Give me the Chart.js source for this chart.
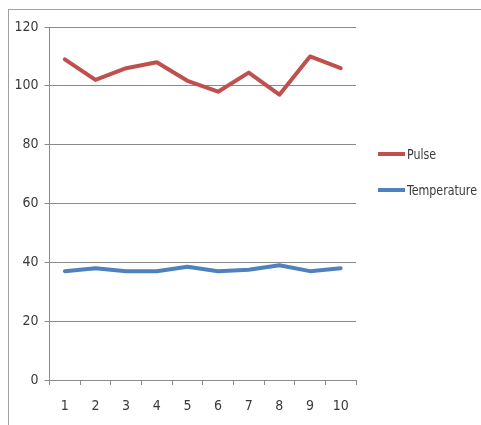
<!DOCTYPE html>
<html>
<head>
<meta charset="utf-8">
<script src="https://cdn.jsdelivr.net/npm/chart.js@4/dist/chart.umd.min.js"></script>
<style>
  html, body { margin: 0; padding: 0; background: #fff; }
  #wrap { position: relative; width: 481px; height: 425px; overflow: hidden; }
  #frame {
    position: absolute; left: 8px; top: 9px; width: 600px; height: 600px;
    border-left: 1px solid #a0a0a0; border-top: 1px solid #a0a0a0;
  }
  canvas { position: absolute; left: 0; top: 0; }
</style>
</head>
<body>
<div id="wrap">
  <div id="frame"></div>
  <canvas id="vitals-chart" width="481" height="425"></canvas>
</div>
<script>
// readings 1..10
const readings = ['1', '2', '3', '4', '5', '6', '7', '8', '9', '10'];
const pulse = [109, 102, 106, 108, 101.7, 98, 104.5, 97, 110, 106];
const temperature = [37, 38, 37, 37, 38.5, 37, 37.5, 39, 37, 38];
const yTicks = [0, 20, 40, 60, 80, 100, 120];

const FONT = '"DejaVu Sans Condensed", "Liberation Sans Narrow", Arial, sans-serif';
const TEXT = '#3a3a3a';
const GRID = '#8a8a8a';

// simple legend drawn to the right of the plot
const sideLegend = {
  id: 'sideLegend',
  afterDraw(chart) {
    const ctx = chart.ctx;
    const rows = [154, 190];
    ctx.save();
    chart.data.datasets.forEach((ds, i) => {
      const y = rows[i];
      ctx.strokeStyle = ds.borderColor;
      ctx.lineWidth = 4;
      ctx.lineCap = 'butt';
      ctx.beginPath();
      ctx.moveTo(378, y);
      ctx.lineTo(405, y);
      ctx.stroke();
      ctx.fillStyle = TEXT;
      ctx.font = '14px ' + FONT;
      ctx.textBaseline = 'middle';
      // squeeze long labels so they stay inside the frame
      const w = ctx.measureText(ds.label).width;
      const sx = Math.min(1, 71 / w, 0.88);
      ctx.save();
      ctx.translate(407, y + 1);
      ctx.scale(sx, 1);
      ctx.fillText(ds.label, 0, 0);
      ctx.restore();
    });
    ctx.restore();
  }
};

new Chart(document.getElementById('vitals-chart'), {
  type: 'line',
  data: {
    labels: readings,
    datasets: [
      {
        label: 'Pulse',
        data: pulse,
        borderColor: '#c0504d',
        borderWidth: 4,
        borderJoinStyle: 'round',
        borderCapStyle: 'round',
        pointRadius: 0,
        tension: 0
      },
      {
        label: 'Temperature',
        data: temperature,
        borderColor: '#4f81bd',
        borderWidth: 4,
        borderJoinStyle: 'round',
        borderCapStyle: 'round',
        pointRadius: 0,
        tension: 0
      }
    ]
  },
  options: {
    responsive: false,
    animation: false,
    layout: { padding: { top: 27, right: 125, bottom: 0, left: 0 } },
    plugins: {
      legend: { display: false },
      tooltip: { enabled: false }
    },
    scales: {
      x: {
        offset: true,
        afterFit: (scale) => { scale.height = 45; },
        grid: {
          offset: true,
          drawOnChartArea: false,
          drawTicks: true,
          tickLength: 5,
          color: GRID
        },
        border: { color: GRID, width: 1 },
        ticks: {
          color: TEXT,
          font: { family: FONT, size: 14 },
          padding: 13,
          maxRotation: 0
        }
      },
      y: {
        min: 0,
        max: 120,
        afterFit: (scale) => { scale.width = 49.5; },
        afterBuildTicks: (scale) => { scale.ticks = yTicks.map(v => ({ value: v })); },
        grid: {
          color: GRID,
          tickLength: 5,
          drawTicks: true
        },
        border: { color: GRID, width: 1 },
        ticks: {
          color: TEXT,
          font: { family: FONT, size: 14 },
          padding: 6
        }
      }
    }
  },
  plugins: [sideLegend]
});
</script>
</body>
</html>
